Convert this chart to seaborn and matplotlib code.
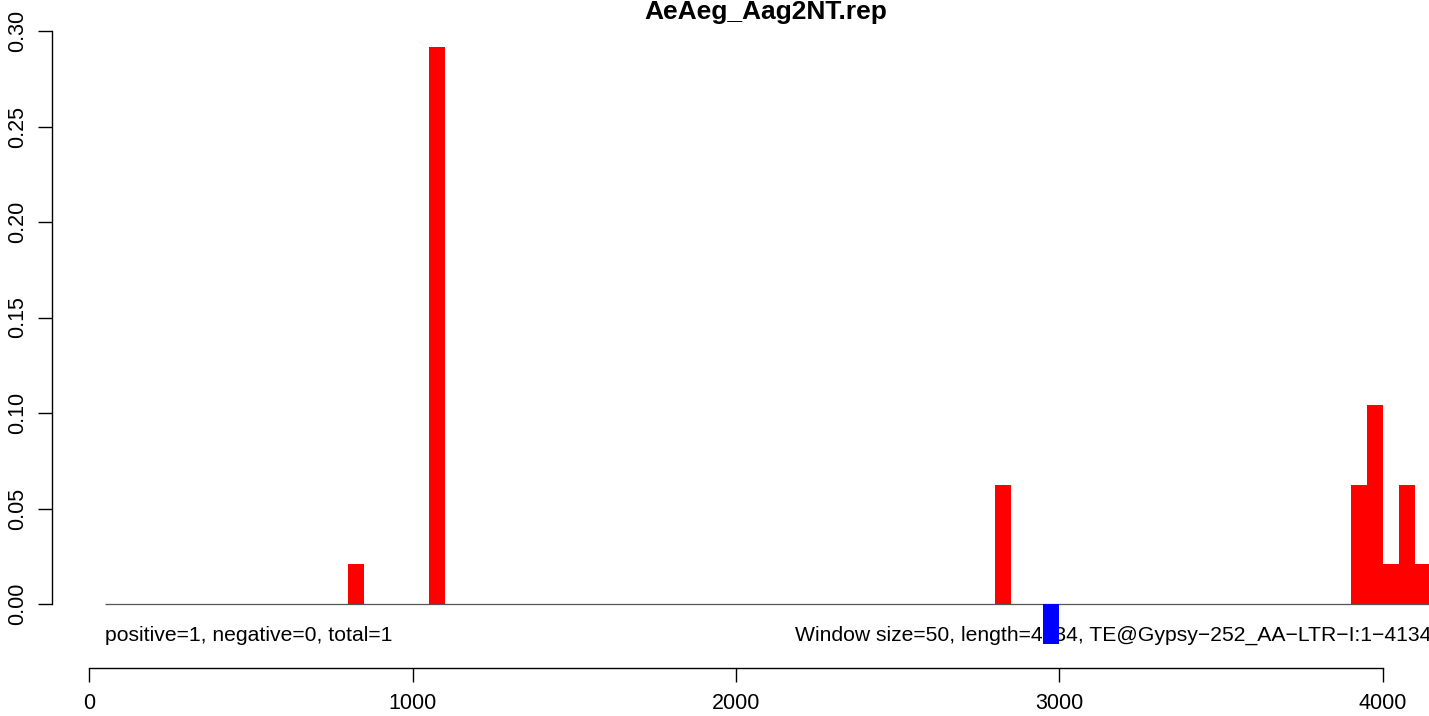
import numpy as np
import pandas as pd
import matplotlib
matplotlib.use('Agg')
import matplotlib.pyplot as plt
import seaborn as sns

sns.set_style('white')
plt.rcParams['font.family'] = ['Liberation Sans', 'DejaVu Sans']
plt.rcParams['text.color'] = 'black'
plt.rcParams['xtick.color'] = 'black'
plt.rcParams['ytick.color'] = 'black'

#### DATA ####
title = 'AeAeg_Aag2NT.rep'
window_size = 50
te_length = 4134
pos_start = [800, 1050, 2800, 3900, 3950, 4000, 4050, 4100]
pos_value = [0.0208, 0.2917, 0.0625, 0.0625, 0.1042, 0.0208, 0.0625, 0.0208]
neg_start = [2950]
neg_value = [-0.0208]
left_note = 'positive=1, negative=0, total=1'
right_note = 'Window size=50, length=4134, TE@Gypsy\u2212252_AA\u2212LTR\u2212I:1\u22124134'
x_ticks = [0, 1000, 2000, 3000, 4000]
y_ticks = [0.00, 0.05, 0.10, 0.15, 0.20, 0.25, 0.30]

pos_df = pd.DataFrame({'start': pos_start, 'value': pos_value})
neg_df = pd.DataFrame({'start': neg_start, 'value': neg_value})

#### PLOT ####
fig = plt.figure(figsize=(14.29, 7.16), dpi=100)
W, H = 1429, 716
ax = fig.add_axes([52 / W, (H - 668) / H, (1479 - 52) / W, (668 - 23) / H])

# window edges every 50 bp along the element
edges = np.arange(0, te_length + window_size, window_size).tolist()

# annotations sit under the bars
ax.text(50, -0.0165, left_note, ha='left', va='center', fontsize=15.2, zorder=1)
ax.text(4150, -0.0165, right_note, ha='right', va='center', fontsize=15.2, zorder=1)
ax.hlines(0, 50, 4400, color='#555555', linewidth=0.9, zorder=1)

sns.histplot(data=pos_df, x='start', weights='value', bins=edges, color='red', alpha=1,
             edgecolor='none', linewidth=0, ax=ax, zorder=2)
sns.histplot(data=neg_df, x='start', weights='value', bins=edges, color='blue', alpha=1,
             edgecolor='none', linewidth=0, ax=ax, zorder=2)

ax.set_xlim(-114.4, 4296.8)
ax.set_ylim(-0.0335, 0.3042)
ax.set_xlabel('')
ax.set_ylabel('')

ax.set_xticks(x_ticks)
ax.set_xticklabels([str(t) for t in x_ticks])
ax.set_yticks(y_ticks)
ax.set_yticklabels(['%.2f' % t for t in y_ticks], rotation=90, va='center')

for s in ['top', 'right']:
    ax.spines[s].set_visible(False)
ax.spines['left'].set_bounds(0, 0.30)
ax.spines['bottom'].set_bounds(0, 4000)
for s in ['left', 'bottom']:
    ax.spines[s].set_color('black')
    ax.spines[s].set_linewidth(1.0)
ax.tick_params(axis='both', direction='out', length=10, width=1.0, color='black',
               labelcolor='black', labelsize=15.5, left=True, bottom=True)
ax.tick_params(axis='x', pad=8)
ax.tick_params(axis='y', pad=7)
ax.grid(False)

fig.text(766 / W, 1 - 12 / H, title, ha='center', va='center',
         fontsize=19, fontweight='bold', color='black')

fig.savefig('out.png', dpi=100)
